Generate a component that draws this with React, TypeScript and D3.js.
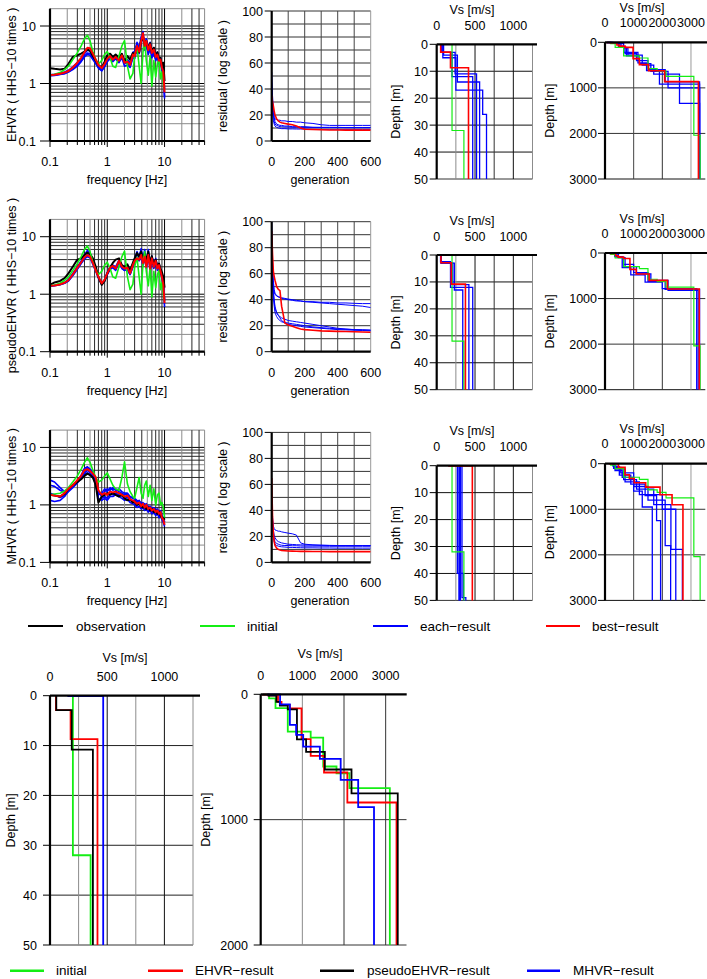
import React from 'react';
import * as d3 from 'd3';

// ---------------- DATA ----------------
const FREQ = [0.1,0.12,0.15,0.18,0.21,0.25,0.3,0.35,0.4,0.45,0.5,0.56,0.63,0.7,0.8,0.9,1.0,1.12,1.25,1.4,1.6,1.8,2.0,2.25,2.5,2.8,3.0,3.3,3.6,3.9,4.2,4.5,4.8,5.2,5.6,6.0,6.5,7.0,7.5,8.0,8.5,9.0,9.5,10];

const ehvrObs = [1.85,1.8,1.75,1.8,2.2,2.9,3.1,3.3,3.6,3.9,3.7,3.0,2.5,2.1,1.9,2.4,3.1,3.3,2.9,3.2,2.8,3.3,2.4,3.0,2.6,3.4,3.0,4.2,3.5,5.5,6.5,4.5,5.5,4.0,5.0,3.6,4.2,3.0,3.5,2.6,2.8,2.0,2.3,1.1];
const ehvrBest = [1.4,1.42,1.48,1.55,1.65,1.9,2.3,2.8,3.5,4.2,4.1,3.3,2.6,2.1,1.85,2.2,2.7,3.0,2.6,2.9,2.5,3.1,2.3,2.4,2.1,3.2,3.0,4.5,3.6,5.5,7.5,4.5,5.5,3.8,4.8,3.4,3.9,2.9,3.2,2.5,2.6,1.9,1.6,0.7];
const hvrInitial = [1.4,1.45,1.55,1.75,2.0,2.6,3.4,4.5,6.0,6.9,5.5,3.6,2.6,2.2,2.5,3.2,3.6,2.8,2.0,1.9,3.0,4.5,5.6,2.0,1.2,1.5,3.0,4.4,2.0,1.0,3.5,5.5,2.5,1.4,3.0,0.9,2.5,1.3,2.2,2.6,1.2,1.6,1.0,0.75];
const ehvrEach1 = [1.38,1.4,1.45,1.5,1.6,1.8,2.1,2.5,3.0,3.4,3.3,2.8,2.3,1.9,1.7,2.0,2.5,2.8,2.5,2.8,2.4,3.0,2.2,2.3,2.0,3.0,3.2,4.8,3.8,5.8,8.0,4.2,5.0,3.5,4.5,3.0,3.6,2.7,3.0,2.3,2.4,1.8,1.5,0.6];
const ehvrEach2 = [1.42,1.45,1.5,1.58,1.7,1.95,2.3,2.7,3.3,3.8,3.7,3.0,2.4,2.0,1.8,2.1,2.6,2.9,2.7,3.0,2.6,3.2,2.5,2.6,2.3,3.5,3.6,5.2,4.2,6.5,6.8,5.0,6.0,4.2,5.2,3.8,4.2,3.2,3.5,2.8,2.8,2.1,1.8,0.8];
const ehvrEach3 = [1.36,1.38,1.43,1.48,1.58,1.75,2.0,2.4,2.9,3.2,3.1,2.6,2.2,1.85,1.65,1.95,2.4,2.7,2.4,2.7,2.3,2.8,2.0,2.1,1.9,2.8,2.7,4.0,3.3,5.0,7.0,3.8,4.6,3.2,4.0,2.8,3.3,2.5,2.8,2.2,2.2,1.7,1.4,0.55];

const pehvrObs = [1.45,1.6,1.7,1.9,2.3,3.0,4.0,4.2,4.8,5.3,5.0,4.2,3.0,2.0,1.45,1.7,2.3,2.9,3.5,4.0,4.2,3.2,3.0,3.3,2.6,3.5,4.2,5.2,4.5,5.5,4.0,5.0,3.8,5.5,3.5,4.6,3.2,4.0,3.0,3.4,2.8,2.4,2.0,1.3];
const pehvrBest = [1.4,1.42,1.48,1.58,1.75,2.2,2.9,3.6,4.4,4.8,4.5,3.5,2.6,2.0,1.55,1.8,2.3,2.9,3.1,2.8,3.8,3.0,2.8,2.9,2.3,3.2,3.8,4.2,4.0,4.8,3.5,4.5,3.0,4.8,2.8,4.2,3.0,3.8,2.8,3.2,2.5,2.0,1.5,0.7];
const pehvrEach1 = [1.4,1.43,1.5,1.6,1.8,2.3,3.0,3.8,4.8,5.8,5.2,3.8,2.7,2.0,1.5,1.7,2.2,2.8,3.0,2.7,3.5,2.8,2.6,2.7,2.2,3.0,3.6,4.8,4.6,5.5,4.0,6.0,3.5,5.5,3.0,4.5,3.2,4.0,3.0,3.3,2.6,2.1,1.6,0.75];
const pehvrEach2 = [1.38,1.4,1.46,1.55,1.7,2.1,2.7,3.4,4.1,4.5,4.3,3.3,2.5,1.9,1.5,1.75,2.2,2.7,2.9,2.6,3.6,2.9,2.6,2.7,2.2,3.0,3.5,4.0,3.8,4.4,3.2,4.2,2.8,4.4,2.6,3.9,2.8,3.5,2.6,3.0,2.3,1.9,1.4,0.6];
const pehvrEach3 = [1.4,1.42,1.47,1.57,1.72,2.15,2.8,3.5,4.3,4.9,4.6,3.6,2.6,1.95,1.5,1.8,2.4,3.0,3.2,3.0,3.9,3.1,2.9,3.0,2.4,3.4,4.1,5.5,4.4,6.2,3.8,5.0,3.3,6.0,3.0,4.6,3.3,4.2,3.0,3.4,2.7,2.2,1.7,0.8];

const mhvrObs = [1.5,1.45,1.4,1.55,1.9,2.2,2.5,2.8,3.2,3.5,3.3,3.0,2.2,1.1,1.4,1.5,1.6,1.5,1.6,1.5,1.4,1.5,1.3,1.2,1.25,1.1,1.15,1.0,1.05,0.95,0.9,0.95,0.85,0.9,0.8,0.85,0.75,0.8,0.7,0.75,0.65,0.6,0.6,0.55];
const mhvrBest = [1.5,1.45,1.4,1.6,1.9,2.2,2.7,3.2,4.0,4.2,3.9,3.5,3.0,1.8,1.5,1.6,1.5,1.7,1.65,1.7,1.6,1.5,1.4,1.45,1.25,1.2,1.15,1.05,1.1,0.95,1.05,0.9,1.0,0.85,0.9,0.8,0.85,0.75,0.8,0.7,0.75,0.6,0.55,0.45];
const mhvrInitial = [1.5,1.55,1.6,1.75,2.0,2.5,3.2,4.2,5.5,6.6,5.5,4.0,3.0,2.5,2.7,3.2,3.6,2.8,2.2,1.9,1.8,3.0,5.6,2.3,1.7,1.4,1.3,2.0,3.0,1.6,1.3,2.2,2.6,1.4,2.2,1.2,1.9,1.0,1.5,1.6,1.0,1.1,0.9,0.6];
const mhvrEach1 = [2.7,2.5,2.0,1.7,1.8,2.1,2.5,3.0,3.8,4.5,4.0,3.5,2.5,1.5,1.6,1.9,1.7,2.0,1.8,1.9,1.7,1.6,1.5,1.55,1.35,1.3,1.25,1.1,1.2,1.0,1.1,0.95,1.05,0.9,0.95,0.85,0.9,0.8,0.85,0.75,0.8,0.65,0.6,0.5];
const mhvrEach2 = [1.2,1.15,1.2,1.4,1.8,2.2,2.6,3.0,3.6,4.0,3.6,3.2,2.6,1.3,1.2,1.3,1.2,1.4,1.4,1.5,1.4,1.3,1.2,1.25,1.1,1.05,1.0,0.9,0.95,0.85,0.9,0.8,0.85,0.75,0.8,0.7,0.75,0.65,0.7,0.6,0.65,0.55,0.5,0.42];
const mhvrEach3 = [2.2,2.1,1.8,1.65,1.85,2.2,2.6,3.3,4.3,4.6,4.2,3.8,2.8,1.7,1.4,1.7,1.9,1.8,2.0,1.8,1.9,1.7,1.6,1.6,1.4,1.35,1.3,1.2,1.15,1.1,1.0,1.05,0.9,0.95,0.85,0.9,0.8,0.85,0.75,0.8,0.7,0.65,0.55,0.5];
const mhvrEach4 = [1.6,1.5,1.35,1.45,1.7,2.0,2.4,2.9,3.5,3.6,3.4,3.0,2.3,1.2,1.3,1.4,1.3,1.55,1.5,1.6,1.5,1.45,1.3,1.35,1.2,1.15,1.1,1.0,1.05,0.92,0.95,0.85,0.9,0.8,0.85,0.75,0.8,0.7,0.75,0.65,0.7,0.58,0.55,0.45];

const GEN = [0,5,10,15,20,30,40,50,60,80,100,125,150,175,200,250,300,350,400,450,500,550,600];
const resEhvrBest = [35,30,27,23,20,17,15.5,14.5,14,13.5,13,12.5,11.5,10,9,8.8,8.6,8.5,8.5,8.4,8.4,8.4,8.4];
const resEhvrEach1 = [53,35,25,18,15,13,12.5,12,12,11.5,11.5,11,11,11,11,10.5,10.5,10.5,10.5,10.3,10.3,10.3,10.3];
const resEhvrEach2 = [45,30,22,18,17,16.5,16,16,15.5,15.5,15,15,14.5,14.5,14,13.5,12.5,12,12,12,12,12,12];
const resEhvrEach3 = [30,22,16,13,11.5,10.5,10,9.8,9.5,9.5,9.3,9.3,9.2,9.2,9.2,9,9,9,9,9,9,9,9];
const resEhvrEach4 = [38,28,20,15,13,12,11.5,11,11,10.8,10.8,10.6,10.6,10.5,10.5,10.5,10.4,10.4,10.4,10.4,10.4,10.4,10.4];
const resPehvrBest = [93,75,62,58,55,50,48,47,35,22,20.5,19.5,18.5,17.5,17,16.5,16,15.8,15.6,15.5,15.3,15.2,15];
const resPehvrEach1 = [100,70,55,48,45,43,42.5,42,41.5,41,40.5,40,39.5,39,38.5,38,37.5,37,36.5,36,35.5,35,34];
const resPehvrEach2 = [80,60,50,46,44,43,42,41.5,41,40.5,40,39.5,39,39,38.5,38.5,38,38,37.5,37.5,37.2,37,37];
const resPehvrEach3 = [75,55,45,38,33,30,28,27,26,25,24,23.5,23,22.5,22,21,20,19,18,17.5,17,16.8,16.5];
const resPehvrEach4 = [85,60,48,40,35,30,28,26,24,22,21,20.5,20,19.5,19,18.5,18,17.5,17,16.8,16.5,16.3,16];
const resPehvrEach5 = [70,52,42,35,30,27,25,24,23,22.5,22,21.5,21,20.5,20,19,18.5,18,17.5,17.2,17,16.8,16.6];
const resMhvrBest = [65,35,22,16,13,11,10,9.5,9.2,9,8.8,8.7,8.6,8.5,8.5,8.4,8.4,8.3,8.3,8.3,8.3,8.3,8.3];
const resMhvrEach1 = [45,30,22,18,16,14.5,14,13.5,13.2,13,13,12.8,12.8,12.6,12.5,12.5,12.5,12.4,12.4,12.4,12.4,12.4,12.4];
const resMhvrEach2 = [50,35,28,26,25,24.5,24,24,23.5,23,22.5,22,21,15,14,13.5,13.2,13,13,13,13,13,13];
const resMhvrEach3 = [40,28,20,16,14,13,12.5,12.2,12,11.8,11.6,11.5,11.4,11.3,11.2,11.2,11.1,11.1,11,11,11,11,11];
const resMhvrEach4 = [48,32,25,21,19,17,16,15.5,15,14.5,14,13.8,13.6,13.5,13.4,13.3,13.2,13.1,13,13,13,13,13];

// Vs profiles: [top depth (m), Vs (m/s)]
const profInitial = [[0,200],[32,355],[110,650],[297,1200],[345,1500],[576,1820],[630,2130],[749,3100],[2040,3320]];
const profEhvr = [[0,52],[2.9,180],[8.7,415],[60,500],[85,700],[112,980],[358,1200],[491,1520],[624,2080],[863,3260]];
const profPehvr = [[0,55],[2.9,190],[10.8,375],[60,460],[90,650],[120,870],[360,1090],[460,1540],[600,2180],[790,3290]];
const profMhvr = [[0,160],[0.1,465],[80,700],[244,850],[324,1020],[417,1420],[515,1920],[683,2340],[900,2720]];

const profEhvrEach1 = [[0,60],[3,240],[11,520],[100,700],[250,1100],[400,1500],[600,2100],[870,3300]];
const profEhvrEach2 = [[0,90],[4,270],[14,560],[110,750],[300,1200],[470,1600],[640,2200],[1000,3300]];
const profEhvrEach3 = [[0,80],[5,250],[17,600],[26,650],[120,800],[280,1300],[500,1700],[700,2600],[1340,3300]];
const profEhvrEach4 = [[0,70],[3,200],[12,470],[90,650],[220,1150],[450,1450],[620,1900],[920,3300]];
const profPehvrEach1 = [[0,60],[3,210],[11,420],[90,640],[250,1000],[430,1500],[620,2100],[800,3300]];
const profPehvrEach2 = [[0,50],[2.5,180],[12,470],[100,700],[300,1100],[460,1600],[600,2200],[820,3250]];
const profPehvrEach3 = [[0,55],[3,230],[13,340],[80,600],[320,900],[480,1400],[640,2000],[780,3200]];
const profMhvrEach1 = [[0,270],[40,350],[150,600],[300,1000],[600,1300],[950,1650]];
const profMhvrEach2 = [[0,290],[60,500],[250,900],[450,1400],[700,1800],[1250,1940]];
const profMhvrEach3 = [[0,310],[80,550],[200,1000],[500,1500],[800,2100],[1800,2290]];
const profMhvrEach4 = [[0,330],[49,380],[120,700],[400,1200],[680,2000],[1000,2470]];
const profMhvrEach5 = [[0,300],[100,650],[350,1100],[560,1700],[900,2300],[1880,2700]];

const legendTop = ['observation', 'initial', 'each\u2212result', 'best\u2212result'];
const legendBottom = ['initial', 'EHVR\u2212result', 'pseudoEHVR\u2212result', 'MHVR\u2212result'];

// ---------------- STYLE ----------------
const FONT = "'Liberation Sans', Arial, Helvetica, sans-serif";
const FS = 12.5;
const BLUE = '#0000ff';
const RED = '#ff0000';
const GREEN = '#14ee14';
const BLACK = '#000000';
const ROW_DY = [0, 210.7, 421.4];

const gridColor = (v: number) => {
  const m = Math.round(v / Math.pow(10, Math.floor(Math.log10(v) + 1e-9)));
  if (m === 1) return '#000';
  if (m === 2 || m === 5) return '#8c8c8c';
  return '#2a2a2a';
};

type HvrProps = { id: string; dy: number; label: string; each: number[][]; obs: number[]; init: number[]; best: number[] };

function HvrPanel({ id, dy, label, each, obs, init, best }: HvrProps) {
  const x = d3.scaleLog().domain([0.1, 50]).range([50, 204.6]);
  const y = d3.scaleLog().domain([0.1, 20]).range([141 + dy, 8.7 + dy]);
  const xs: number[] = [];
  [0.1, 1].forEach(d => { for (let m = 1; m <= 9; m++) xs.push(+(m * d).toFixed(2)); });
  xs.push(10, 20, 30, 40, 50);
  const ys: number[] = [];
  [0.1, 1].forEach(d => { for (let m = 1; m <= 9; m++) ys.push(+(m * d).toFixed(2)); });
  ys.push(10, 20);
  const line = d3.line<number>().x((_, i) => x(FREQ[i])).y(v => y(v));
  const [x0, x1] = x.range();
  const [yb, yt] = y.range();
  return (
    <g>
      <clipPath id={id}><rect x={x0} y={yt} width={x1 - x0} height={yb - yt} /></clipPath>
      {ys.map(v => <line key={'h' + v} x1={x0} x2={x1} y1={y(v)} y2={y(v)} stroke={gridColor(v)} strokeWidth={1} />)}
      {xs.map(v => <line key={'v' + v} x1={x(v)} x2={x(v)} y1={yt} y2={yb} stroke={gridColor(v)} strokeWidth={1} />)}
      {xs.map(v => <line key={'t' + v} x1={x(v)} x2={x(v)} y1={yb} y2={yb + (gridColor(v) === '#000' ? 6 : 4)} stroke="#000" strokeWidth={1} />)}
      {[0.1, 1, 10].map(v => <line key={'yt' + v} x1={x0 - 10} x2={x0} y1={y(v)} y2={y(v)} stroke="#000" strokeWidth={1} />)}
      <g clipPath={`url(#${id})`} fill="none" strokeLinejoin="round">
        {each.map((c, i) => <path key={i} d={line(c) || ''} stroke={BLUE} strokeWidth={1.6} />)}
        <path d={line(obs) || ''} stroke={BLACK} strokeWidth={2} />
        <path d={line(init) || ''} stroke={GREEN} strokeWidth={1.6} />
        <path d={line(best) || ''} stroke={RED} strokeWidth={2} />
      </g>
      <line x1={x0} x2={x0} y1={yt} y2={yb} stroke="#000" strokeWidth={2.2} />
      <line x1={x0} x2={x1} y1={yb} y2={yb} stroke="#000" strokeWidth={2.2} />
      {[0.1, 1, 10].map(v => <text key={'yl' + v} x={36} y={y(v) + 4.5} textAnchor="end">{v}</text>)}
      {[0.1, 1, 10].map(v => <text key={'xl' + v} x={x(v)} y={yb + 25} textAnchor="middle">{v}</text>)}
      <text x={127} y={yb + 43} textAnchor="middle">frequency [Hz]</text>
      <text transform={`translate(16,${(yt + yb) / 2}) rotate(-90)`} textAnchor="middle">{label}</text>
    </g>
  );
}

type ResProps = { id: string; dy: number; each: number[][]; best: number[] };
function ResidualPanel({ id, dy, each, best }: ResProps) {
  const x = d3.scaleLinear().domain([0, 600]).range([271.7, 370.7]);
  const y = d3.scaleLinear().domain([0, 100]).range([141 + dy, 11 + dy]);
  const line = d3.line<number>().x((_, i) => x(GEN[i])).y(v => y(v));
  const [x0, x1] = x.range();
  const [yb, yt] = y.range();
  const hs = d3.range(10, 101, 10);
  const vs = d3.range(100, 601, 100);
  return (
    <g>
      <clipPath id={id}><rect x={x0} y={yt} width={x1 - x0} height={yb - yt} /></clipPath>
      {hs.map(v => <line key={'h' + v} x1={x0} x2={x1} y1={y(v)} y2={y(v)} stroke="#333" strokeWidth={1} />)}
      {vs.map(v => <line key={'v' + v} x1={x(v)} x2={x(v)} y1={yt} y2={yb} stroke={v === 600 ? '#999' : '#444'} strokeWidth={1} />)}
      {[0, 20, 40, 60, 80, 100].map(v => <line key={'t' + v} x1={x0 - 7} x2={x0} y1={y(v)} y2={y(v)} stroke="#000" />)}
      <g clipPath={`url(#${id})`} fill="none">
        {each.map((c, i) => <path key={i} d={line(c) || ''} stroke={BLUE} strokeWidth={1} />)}
        <path d={line(best) || ''} stroke={RED} strokeWidth={1.6} />
      </g>
      <line x1={x0} x2={x0} y1={yt} y2={yb} stroke="#000" strokeWidth={2.2} />
      <line x1={x0} x2={x1} y1={yb} y2={yb} stroke="#000" strokeWidth={2.2} />
      {[0, 20, 40, 60, 80, 100].map(v => <text key={'yl' + v} x={263} y={y(v) + 4.5} textAnchor="end">{v}</text>)}
      {[0, 200, 400, 600].map(v => <text key={'xl' + v} x={x(v)} y={yb + 25} textAnchor="middle">{v}</text>)}
      <text x={320} y={yb + 43} textAnchor="middle">generation</text>
      <text transform={`translate(227,${(yt + yb) / 2}) rotate(-90)`} textAnchor="middle">residual ( log scale )</text>
    </g>
  );
}

function stepPoints(layers: number[][], maxD: number): [number, number][] {
  const pts: [number, number][] = [];
  layers.forEach(([d, v], i) => {
    const bottom = i < layers.length - 1 ? layers[i + 1][0] : maxD;
    pts.push([v, d], [v, bottom]);
  });
  return pts;
}

type ProfLine = { layers: number[][]; color: string; width: number };
type ProfProps = {
  id: string; xr: [number, number]; yr: [number, number]; vmax: number; dmax: number;
  vGrid: [number, string][]; dGrid: [number, string][]; vLabels: number[]; dLabels: number[];
  lines: ProfLine[]; axisExt: number; labX: number; titleX: number; vsTitleY: number; vLabelY: number; titleCx: number;
};
function ProfilePanel(p: ProfProps) {
  const x = d3.scaleLinear().domain([0, p.vmax]).range(p.xr);
  const y = d3.scaleLinear().domain([0, p.dmax]).range(p.yr);
  const line = d3.line<[number, number]>().x(d => x(d[0])).y(d => y(d[1]));
  const [x0, x1] = p.xr;
  const [yt, yb] = p.yr;
  return (
    <g>
      <clipPath id={p.id}><rect x={x0} y={yt - 1} width={x1 - x0} height={yb - yt + 1} /></clipPath>
      {p.dGrid.map(([v, c]) => <line key={'h' + v} x1={x0} x2={x1} y1={y(v)} y2={y(v)} stroke={c} strokeWidth={1} />)}
      {p.vGrid.map(([v, c]) => <line key={'v' + v} x1={x(v)} x2={x(v)} y1={yt} y2={yb} stroke={c} strokeWidth={1} />)}
      {p.dLabels.map(v => <line key={'t' + v} x1={x0 - 7} x2={x0} y1={y(v)} y2={y(v)} stroke="#000" />)}
      <g clipPath={`url(#${p.id})`} fill="none">
        {p.lines.map((l, i) => <path key={i} d={line(stepPoints(l.layers, p.dmax)) || ''} stroke={l.color} strokeWidth={l.width} />)}
      </g>
      <line x1={x0} x2={x0} y1={yt} y2={yb} stroke="#000" strokeWidth={2.2} />
      <line x1={x0} x2={p.axisExt} y1={yt} y2={yt} stroke="#000" strokeWidth={2.2} />
      {p.vLabels.map(v => <text key={'xl' + v} x={x(v)} y={p.vLabelY} textAnchor="middle">{v}</text>)}
      {p.dLabels.map(v => <text key={'yl' + v} x={p.labX} y={y(v) + 4.5} textAnchor="end">{v}</text>)}
      <text x={p.titleCx} y={p.vsTitleY} textAnchor="middle">Vs [m/s]</text>
      <text transform={`translate(${p.titleX},${(yt + yb) / 2}) rotate(-90)`} textAnchor="middle">Depth [m]</text>
    </g>
  );
}

const shallowGrid: [number, string][] = [[250, '#8c8c8c'], [500, '#111'], [750, '#333'], [1000, '#111'], [1250, '#8c8c8c']];
const shallowDGrid: [number, string][] = [[10, '#111'], [20, '#111'], [30, '#111'], [40, '#111'], [50, '#333']];
const deepGrid: [number, string][] = [[1000, '#444'], [2000, '#333'], [3000, '#999']];
const deepDGrid: [number, string][] = [[1000, '#333'], [2000, '#333'], [3000, '#111']];

export default function App() {
  const rows = [
    { label: 'EHVR ( HHS\u221210 times )', each: [ehvrEach1, ehvrEach2, ehvrEach3], obs: ehvrObs, init: hvrInitial, best: ehvrBest,
      resEach: [resEhvrEach1, resEhvrEach2, resEhvrEach3, resEhvrEach4], resBest: resEhvrBest,
      profEach: [profEhvrEach1, profEhvrEach2, profEhvrEach3, profEhvrEach4], profBest: profEhvr },
    { label: 'pseudoEHVR ( HHS\u221210 times )', each: [pehvrEach1, pehvrEach2, pehvrEach3], obs: pehvrObs, init: hvrInitial, best: pehvrBest,
      resEach: [resPehvrEach1, resPehvrEach2, resPehvrEach3, resPehvrEach4, resPehvrEach5], resBest: resPehvrBest,
      profEach: [profPehvrEach1, profPehvrEach2, profPehvrEach3], profBest: profPehvr },
    { label: 'MHVR ( HHS\u221210 times )', each: [mhvrEach1, mhvrEach2, mhvrEach3, mhvrEach4], obs: mhvrObs, init: mhvrInitial, best: mhvrBest,
      resEach: [resMhvrEach1, resMhvrEach2, resMhvrEach3, resMhvrEach4], resBest: resMhvrBest,
      profEach: [profMhvrEach1, profMhvrEach2, profMhvrEach3, profMhvrEach4, profMhvrEach5], profBest: profMhvr },
  ];
  const topColors = [BLACK, GREEN, BLUE, RED];
  const topLegX = [[28, 63, 76], [200, 235, 247], [373, 408, 420], [546, 580, 592]];
  const botColors = [GREEN, RED, BLACK, BLUE];
  const botLegX = [[10, 44, 56], [148, 183, 195], [320, 354, 367], [527, 560, 573]];
  return (
    <svg width={707} height={979} style={{ position: 'absolute', left: 0, top: 0, background: '#fff' }}
      fontFamily={FONT} fontSize={FS} fill="#000">
      <rect x={0} y={0} width={707} height={979} fill="#fff" />
      {rows.map((r, i) => {
        const dy = ROW_DY[i];
        const profLines = (dmaxShallow: boolean): ProfLine[] => [
          ...r.profEach.map(l => ({ layers: l, color: BLUE, width: 1.3 })),
          { layers: profInitial, color: GREEN, width: 1.2 },
          { layers: r.profBest, color: RED, width: 1.6 },
        ];
        return (
          <g key={i}>
            <HvrPanel id={'hc' + i} dy={dy} label={r.label} each={r.each} obs={r.obs} init={r.init} best={r.best} />
            <ResidualPanel id={'rc' + i} dy={dy} each={r.resEach} best={r.resBest} />
            <ProfilePanel id={'sc' + i} xr={[436.7, 532.5]} yr={[44.3 + dy, 179 + dy]} vmax={1250} dmax={50}
              vGrid={shallowGrid} dGrid={shallowDGrid} vLabels={[0, 500, 1000]} dLabels={[0, 10, 20, 30, 40, 50]}
              lines={profLines(true)} axisExt={537} labX={428} titleX={399.5} vsTitleY={14 + dy} vLabelY={30 + dy} titleCx={472} />
            <ProfilePanel id={'dc' + i} xr={[605, 705.3]} yr={[42.3 + dy, 179 + dy]} vmax={3500} dmax={3000}
              vGrid={deepGrid} dGrid={deepDGrid} vLabels={[0, 1000, 2000, 3000]} dLabels={[0, 1000, 2000, 3000]}
              lines={profLines(false)} axisExt={707} labX={597} titleX={554} vsTitleY={12 + dy} vLabelY={27 + dy} titleCx={642} />
          </g>
        );
      })}
      {legendTop.map((t, i) => (
        <g key={'lt' + i}>
          <line x1={topLegX[i][0]} x2={topLegX[i][1]} y1={626} y2={626} stroke={topColors[i]} strokeWidth={2} />
          <text x={topLegX[i][2]} y={630.5} fontSize={13.5}>{t}</text>
        </g>
      ))}
      <ProfilePanel id="bs" xr={[50, 193]} yr={[695.7, 945]} vmax={1250} dmax={50}
        vGrid={[[250, '#8c8c8c'], [500, '#111'], [750, '#8c8c8c'], [1000, '#111'], [1250, '#8c8c8c']]}
        dGrid={[[10, '#222'], [20, '#222'], [30, '#222'], [40, '#222'], [50, '#333']]}
        vLabels={[0, 500, 1000]} dLabels={[0, 10, 20, 30, 40, 50]}
        lines={[
          { layers: profInitial, color: GREEN, width: 1.8 },
          { layers: profEhvr, color: RED, width: 1.8 },
          { layers: profPehvr, color: BLACK, width: 1.8 },
          { layers: profMhvr, color: BLUE, width: 1.8 },
        ]}
        axisExt={200} labX={37} titleX={15} vsTitleY={662} vLabelY={680.7} titleCx={125} />
      <ProfilePanel id="bd" xr={[260.7, 406.5]} yr={[694.3, 945]} vmax={3500} dmax={2000}
        vGrid={[[1000, '#8c8c8c'], [2000, '#333'], [3000, '#333']]}
        dGrid={[[1000, '#333'], [2000, '#333']]}
        vLabels={[0, 1000, 2000, 3000]} dLabels={[0, 1000, 2000]}
        lines={[
          { layers: profInitial, color: GREEN, width: 1.8 },
          { layers: profEhvr, color: RED, width: 1.8 },
          { layers: profPehvr, color: BLACK, width: 1.8 },
          { layers: profMhvr, color: BLUE, width: 1.8 },
        ]}
        axisExt={406.7} labX={248} titleX={210} vsTitleY={658} vLabelY={680} titleCx={320} />
      {legendBottom.map((t, i) => (
        <g key={'lb' + i}>
          <line x1={botLegX[i][0]} x2={botLegX[i][1]} y1={970.7} y2={970.7} stroke={botColors[i]} strokeWidth={2.6} />
          <text x={botLegX[i][2]} y={975} fontSize={13.5}>{t}</text>
        </g>
      ))}
    </svg>
  );
}
